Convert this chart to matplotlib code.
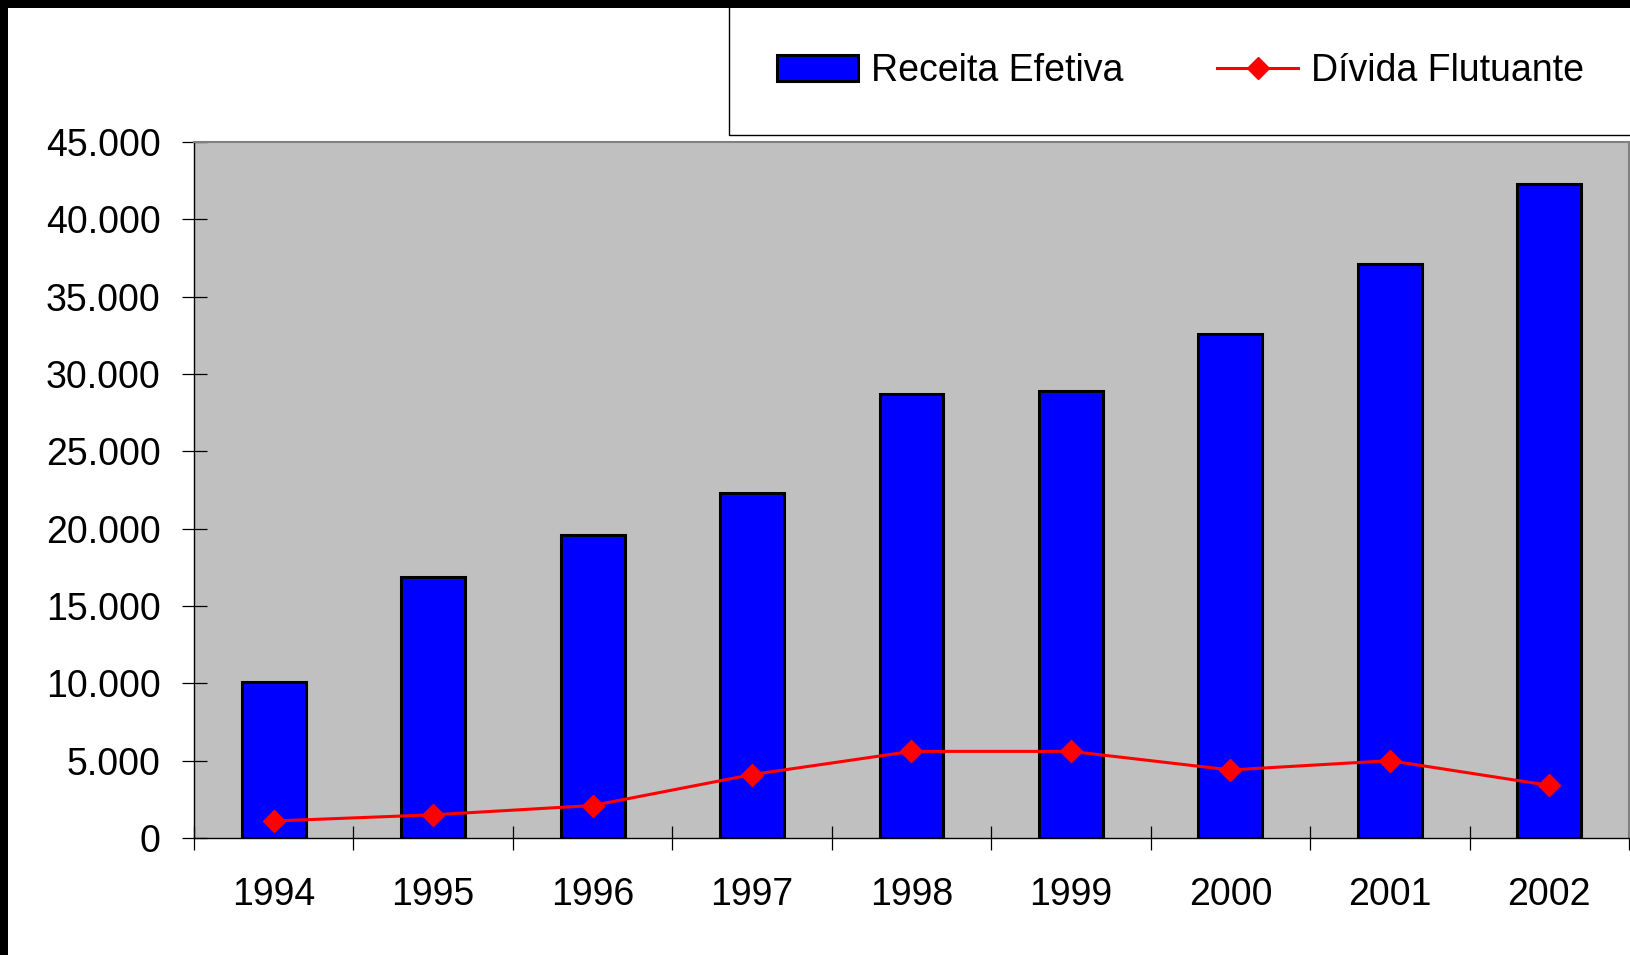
import matplotlib
matplotlib.use("Agg")
import matplotlib.pyplot as plt
from matplotlib.patches import Rectangle
from matplotlib.ticker import FuncFormatter, FixedLocator
import numpy as np

years = ["1994", "1995", "1996", "1997", "1998", "1999", "2000", "2001", "2002"]
receita_efetiva = [10100, 16900, 19600, 22300, 28700, 28900, 32600, 37100, 42300]
divida_flutuante = [1100, 1500, 2100, 4100, 5600, 5600, 4400, 5000, 3400]
y_ticks = [0, 5000, 10000, 15000, 20000, 25000, 30000, 35000, 40000, 45000]

plt.rcParams['font.family'] = ['Liberation Sans', 'DejaVu Sans']

W, H = 1631, 955
fig = plt.figure(figsize=(W / 100, H / 100), dpi=100)
fig.patch.set_facecolor('white')

# black frame (top and left)
fig.patches.append(Rectangle((0, 1 - 8 / H), 1, 8 / H, transform=fig.transFigure,
                             facecolor='black', edgecolor='none', zorder=10))
fig.patches.append(Rectangle((0, 0), 8 / W, 1, transform=fig.transFigure,
                             facecolor='black', edgecolor='none', zorder=10))

# legend box
fig.patches.append(Rectangle((729 / W, 1 - 135 / H), (W - 729 + 10) / W, (135 - 6) / H,
                             transform=fig.transFigure, facecolor='white',
                             edgecolor='black', linewidth=1.0, zorder=1))

left, right, bottom, top = 194 / W, 1629 / W, 1 - 838 / H, 1 - 142 / H
ax = fig.add_axes([left, bottom, right - left, top - bottom])
ax.set_facecolor('#C0C0C0')

x = np.arange(len(years))
bars = ax.bar(x, receita_efetiva, width=0.4, color='#0000FF', edgecolor='black',
              linewidth=2.2, label='Receita Efetiva', zorder=2)
line, = ax.plot(x, divida_flutuante, color='#FF0000', linewidth=2.2, marker='D',
                markersize=11.5, markeredgecolor='#FF0000', label='Dívida Flutuante', zorder=3)

ax.set_xlim(-0.5, len(years) - 0.5)
ax.set_ylim(0, 45000)

ax.yaxis.set_major_locator(FixedLocator(y_ticks))
ax.yaxis.set_major_formatter(FuncFormatter(lambda v, p: f"{int(v):,}".replace(",", ".")))
ax.tick_params(axis='y', which='major', direction='inout', length=18, width=0.9,
               pad=15, labelsize=27, colors='black')

ax.xaxis.set_major_locator(FixedLocator(np.arange(-0.5, len(years), 1.0)))
ax.xaxis.set_major_formatter(FuncFormatter(lambda v, p: ""))
ax.xaxis.set_minor_locator(FixedLocator(x))
ax.set_xticks(x, years, minor=True)
ax.tick_params(axis='x', which='major', direction='inout', length=17, width=0.9)
ax.tick_params(axis='x', which='minor', length=0, pad=28, labelsize=27)

for s in ['top', 'right']:
    ax.spines[s].set_color('#808080')
    ax.spines[s].set_linewidth(1.5)
for s in ['left', 'bottom']:
    ax.spines[s].set_color('black')
    ax.spines[s].set_linewidth(1.0)

fig.legend(handles=[bars, line], labels=['Receita Efetiva', 'Dívida Flutuante'],
           loc='center left', bbox_to_anchor=(777 / W, 1 - 71 / H), ncol=2,
           frameon=False, fontsize=27, handlelength=2.16, handletextpad=0.35,
           columnspacing=2.5, borderpad=0, borderaxespad=0, numpoints=1)

fig.savefig('out.png', dpi=100, facecolor='white')
